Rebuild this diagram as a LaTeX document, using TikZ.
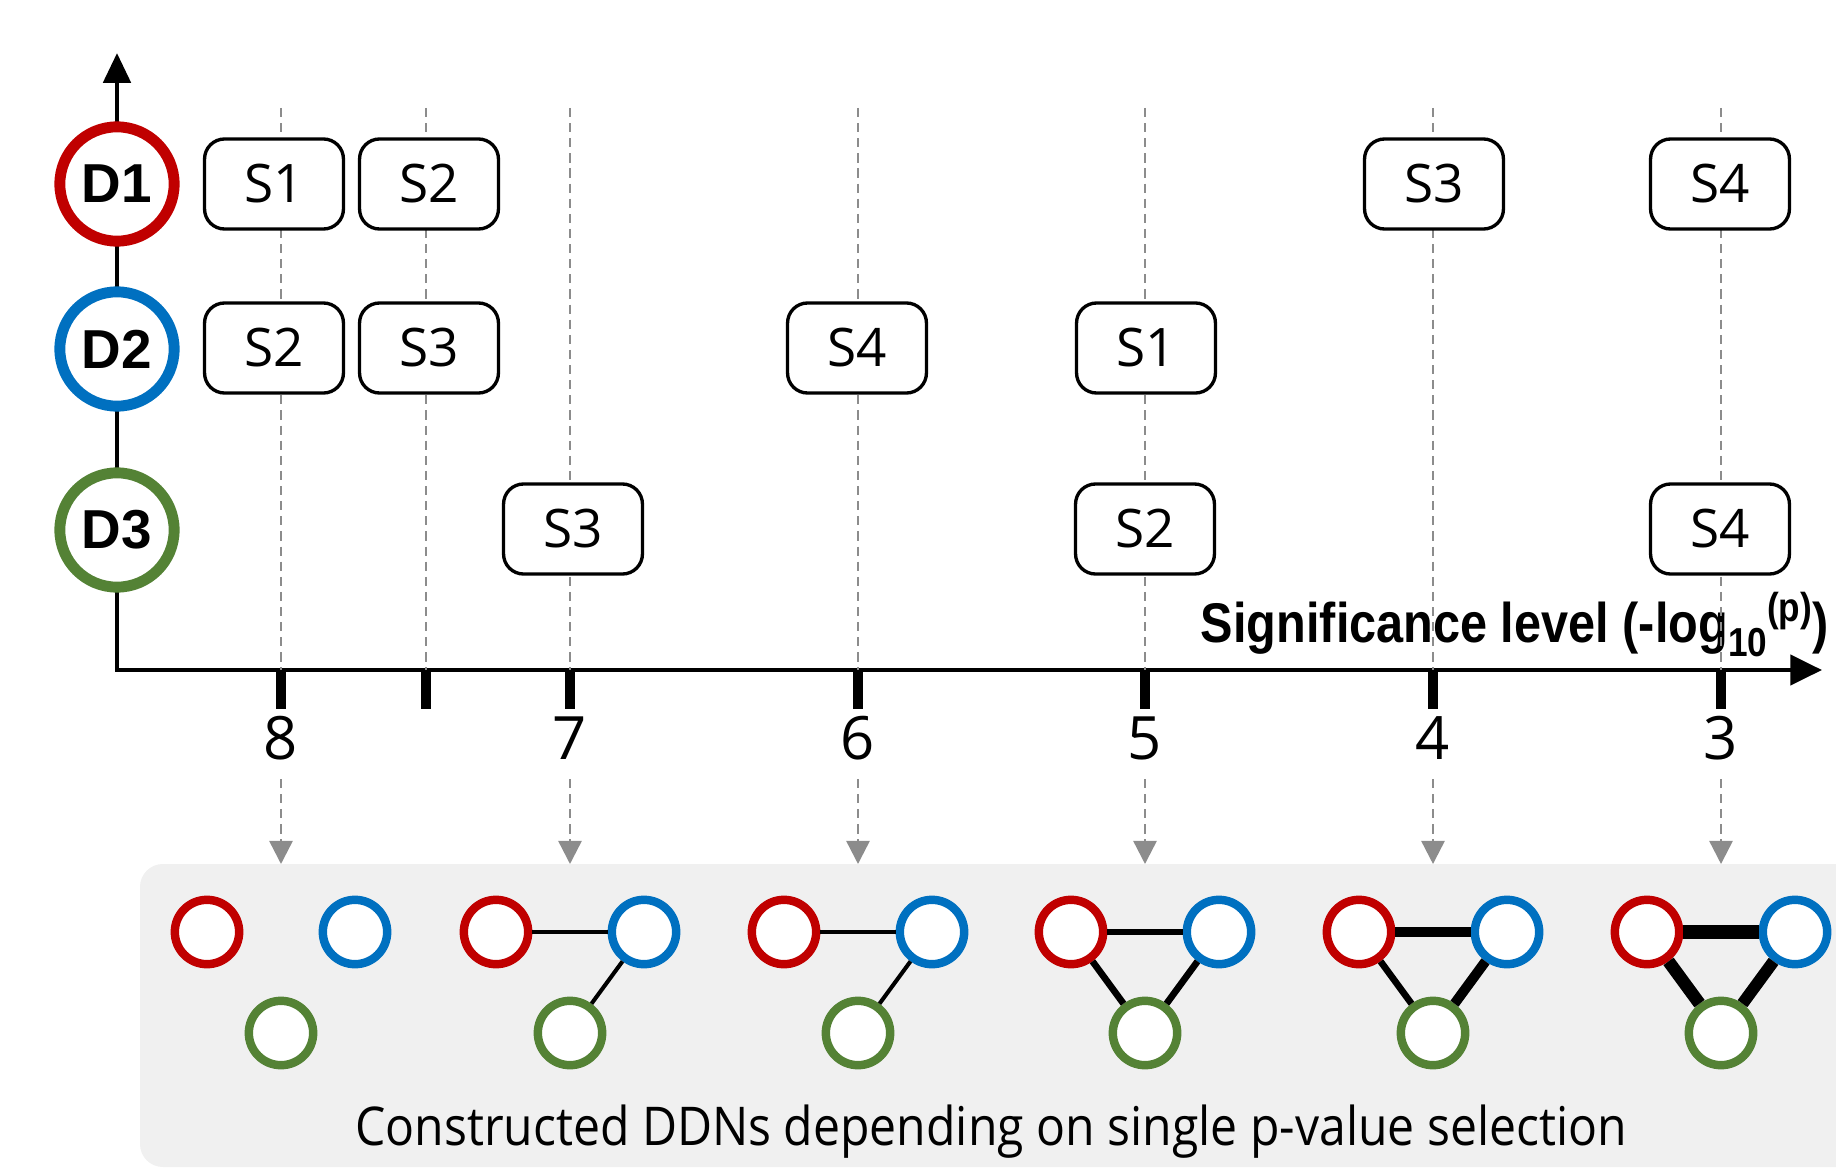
\documentclass[tikz,border=0pt]{standalone}
\usepackage{fontspec}
\setmainfont{Open Sans}
\newfontfamily\arialfont{Liberation Sans}
\usetikzlibrary{arrows.meta}

\definecolor{dred}{HTML}{C00000}
\definecolor{dblue}{HTML}{0070C0}
\definecolor{dgreen}{HTML}{548235}
\definecolor{guide}{HTML}{8C8C8C}
\definecolor{panel}{HTML}{F0F0F0}

\tikzset{
  dnode/.style={circle, draw=#1, line width=3.1pt, fill=white, minimum size=32.5pt,
    inner sep=0pt, font=\arialfont\bfseries\fontsize{15.6}{18}\selectfont},
  snode/.style={draw, rounded corners=5.7pt, line width=0.95pt, fill=white,
    minimum width=39.5pt, minimum height=25.6pt, inner sep=0pt,
    font=\fontsize{15.1}{18}\selectfont},
  netnode/.style={circle, draw=#1, line width=2.4pt, fill=white, minimum size=18.3pt,
    inner sep=0pt},
  guideline/.style={draw=guide, line width=0.7pt, dash pattern=on 2.6pt off 1.7pt},
  tickmark/.style={line width=2.6pt},
  ticklabel/.style={font=\fontsize{17}{20}\selectfont},
  axisline/.style={line width=1.4pt},
}

\begin{document}
\begin{tikzpicture}[x=0.01cm, y=-0.01cm]
\useasboundingbox (0,0) rectangle (1836,1170);
\clip (0,0) rectangle (1836,1170);

% panel holding the networks
\fill[panel, rounded corners=6.5pt] (140,864) rectangle (1900,1167);

% axes
\coordinate (O) at (117,670);
\coordinate (ytop) at (117,53);
\coordinate (xend) at (1822,670);
\draw[axisline, {Triangle[length=8.5pt,width=7.7pt]}-{Triangle[length=9pt,width=8.5pt]}]
  (ytop) -- (O) -- (xend);

% axis title
\node[anchor=base east, inner sep=0pt, font=\arialfont\bfseries\fontsize{15.9}{18}\selectfont]
  (xtitle) at (1829,642) {\scalebox{0.87}[1]{Significance level (-log\raisebox{-0.5ex}{\fontsize{11.5}{12}\selectfont 10}\raisebox{0.7ex}{\fontsize{11.5}{12}\selectfont (p)})}};

% guide lines, ticks and tick labels
\foreach \x/\lab/\nm in {281/8/a, 426//b, 570/7/c, 858/6/d, 1145/5/e, 1433/4/f, 1721/3/g} {
  \coordinate (gt-\nm) at (\x,108);
  \coordinate (ga-\nm) at (\x,670);
  \coordinate (gk-\nm) at (\x,709);
  \draw[guideline] (gt-\nm) -- (ga-\nm);
  \draw[tickmark] (ga-\nm) -- (gk-\nm);
  \node[ticklabel] (lab-\nm) at (\x,738) {\lab};
}

% arrows down to the networks
\foreach \x/\nm in {281/a, 570/c, 858/d, 1145/e, 1433/f, 1721/g} {
  \coordinate (ds-\nm) at (\x,779);
  \coordinate (de-\nm) at (\x,864);
  \draw[guideline, -{Triangle[length=6.6pt,width=6.6pt,fill=guide]}] (ds-\nm) -- (de-\nm);
}

% data set nodes on the vertical axis
\node[dnode=dred]   (D1) at (117,184) {D1};
\node[dnode=dblue]  (D2) at (117,349) {D2};
\node[dnode=dgreen] (D3) at (117,530) {D3};

% selected subsets
\node[snode] (d1s1) at (274,184)  {S1};
\node[snode] (d1s2) at (429,184)  {S2};
\node[snode] (d1s3) at (1434,184) {S3};
\node[snode] (d1s4) at (1720,184) {S4};

\node[snode] (d2s2) at (274,348)  {S2};
\node[snode] (d2s3) at (429,348)  {S3};
\node[snode] (d2s4) at (857,348)  {S4};
\node[snode] (d2s1) at (1146,348) {S1};

\node[snode] (d3s3) at (573,529)  {S3};
\node[snode] (d3s2) at (1145,529) {S2};
\node[snode] (d3s4) at (1720,529) {S4};

% networks: red, blue, green node per threshold
\foreach \x/\nm in {281/a, 570/c, 858/d, 1145/e, 1433/f, 1721/g} {
  \node[netnode=dred]   (r-\nm) at (\x-74,932) {};
  \node[netnode=dblue]  (b-\nm) at (\x+74,932) {};
  \node[netnode=dgreen] (g-\nm) at (\x,1033) {};
}

% edges, thicker for stronger links
\draw[line width=1.15pt] (r-c) -- (b-c);
\draw[line width=1.15pt] (b-c) -- (g-c);
\draw[line width=1.15pt] (r-d) -- (b-d);
\draw[line width=1.15pt] (b-d) -- (g-d);
\draw[line width=1.9pt] (r-e) -- (b-e);
\draw[line width=1.9pt] (r-e) -- (g-e);
\draw[line width=1.9pt] (b-e) -- (g-e);
\draw[line width=2.85pt] (r-f) -- (b-f);
\draw[line width=1.9pt] (r-f) -- (g-f);
\draw[line width=2.85pt] (b-f) -- (g-f);
\draw[line width=3.8pt] (r-g) -- (b-g);
\draw[line width=3.6pt] (r-g) -- (g-g);
\draw[line width=3.4pt] (b-g) -- (g-g);

% caption
\node[font=\fontsize{15.2}{18}\selectfont, anchor=base] (caption) at (991,1145)
  {\scalebox{0.9}[1]{Constructed DDNs depending on single p-value selection}};
\end{tikzpicture}
\end{document}
